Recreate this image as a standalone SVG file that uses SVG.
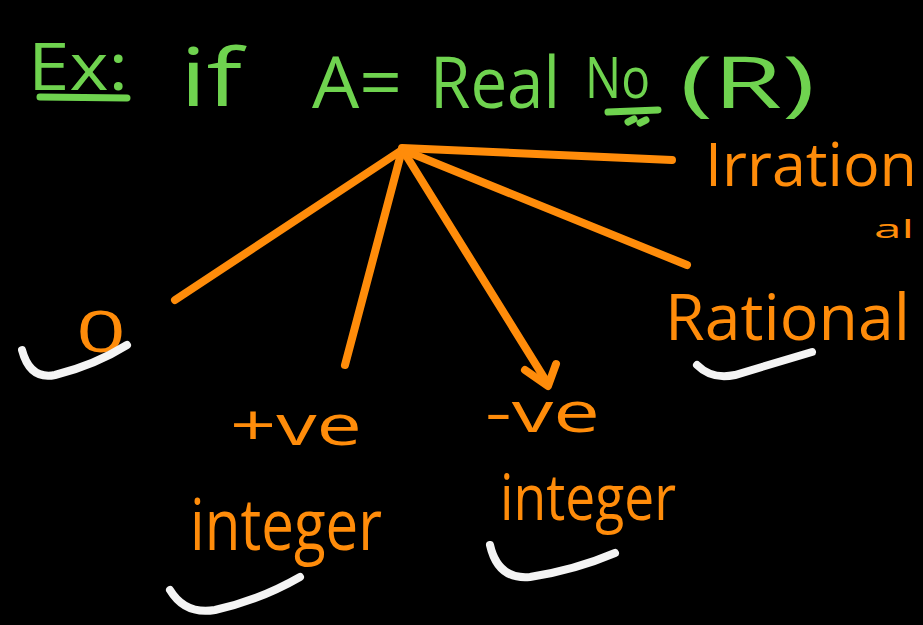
<svg xmlns="http://www.w3.org/2000/svg" width="923" height="625" viewBox="0 0 923 625">
  <style>
    .green { fill: #6fd34f; font-family: "Open Sans", "Liberation Sans", sans-serif; }
    .orange { fill: #ff8c0a; font-family: "Open Sans", "Liberation Sans", sans-serif; }
    .ink-o { stroke: #ff8c0a; stroke-width: 8; fill: none; stroke-linecap: round; stroke-linejoin: round; }
    .ink-g { stroke: #6fd34f; stroke-width: 7; fill: none; stroke-linecap: round; }
    .ink-w { stroke: #f4f4f4; stroke-width: 8; fill: none; stroke-linecap: round; }
  </style>
  <rect width="923" height="625" fill="#000"/>

  <!-- heading -->
  <g id="heading">
    <text class="green" x="28" y="90" font-size="66" textLength="100" lengthAdjust="spacingAndGlyphs">Ex:</text>
    <path class="ink-g" d="M40 97 L127 98"/>
    <text class="green" x="180" y="106" font-size="80" textLength="62" lengthAdjust="spacingAndGlyphs">if</text>
    <text class="green" x="312" y="108" font-size="72" textLength="90" lengthAdjust="spacingAndGlyphs">A=</text>
    <text class="green" x="430" y="108" font-size="72" textLength="130" lengthAdjust="spacingAndGlyphs">Real</text>
    <text class="green" x="585" y="98" font-size="56" textLength="65" lengthAdjust="spacingAndGlyphs">No</text>
    <path class="ink-g" d="M608 112 L658 110"/>
    <path class="ink-g" stroke-width="4" d="M628 122 L634 119 M640 123 L646 120"/>
    <text class="green" x="680" y="108" font-size="72" textLength="135" lengthAdjust="spacingAndGlyphs">(R)</text>
  </g>

  <!-- branches -->
  <g id="connectors">
    <path class="ink-o" d="M402 148 L672 160"/>
    <path class="ink-o" d="M402 150 L175 300"/>
    <path class="ink-o" d="M402 150 L345 365"/>
    <path class="ink-o" d="M404 152 L548 384"/>
    <path class="ink-o" d="M525 370 L548 386 L556 364"/>
    <path class="ink-o" d="M408 152 L687 265"/>
  </g>

  <g id="zero">
    <text class="orange" x="76" y="352" font-size="56" textLength="50" lengthAdjust="spacingAndGlyphs">0</text>
    <path class="ink-w" d="M22 350 Q30 380 55 375 Q95 365 127 345"/>
  </g>

  <g id="positive">
    <text class="orange" x="230" y="445" font-size="56" textLength="132" lengthAdjust="spacingAndGlyphs">+ve</text>
    <text class="orange" x="190" y="550" font-size="72" textLength="192" lengthAdjust="spacingAndGlyphs">integer</text>
    <path class="ink-w" d="M170 590 Q185 615 215 610 Q260 600 300 577"/>
  </g>

  <g id="negative">
    <text class="orange" x="485" y="432" font-size="56" textLength="115" lengthAdjust="spacingAndGlyphs">-ve</text>
    <text class="orange" x="500" y="520" font-size="64" textLength="176" lengthAdjust="spacingAndGlyphs">integer</text>
    <path class="ink-w" d="M490 545 Q498 580 530 577 Q575 570 615 553"/>
  </g>

  <g id="rational">
    <text class="orange" x="665" y="340" font-size="64" textLength="245" lengthAdjust="spacingAndGlyphs">Rational</text>
    <path class="ink-w" d="M697 365 Q712 380 735 375 Q775 363 812 352"/>
  </g>

  <g id="irrational">
    <text class="orange" x="705" y="186" font-size="60" textLength="212" lengthAdjust="spacingAndGlyphs">Irration</text>
    <text class="orange" x="874" y="238" font-size="26" textLength="40" lengthAdjust="spacingAndGlyphs">al</text>
  </g>
</svg>
